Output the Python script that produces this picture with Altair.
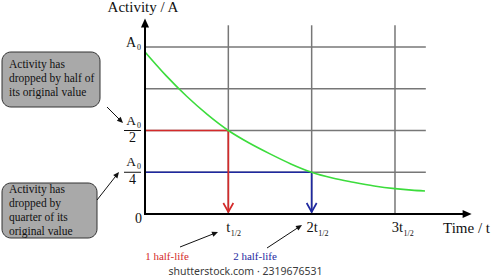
import math
import altair as alt
import pandas as pd

# ---------------- data ----------------
curve_t = [0.0, 0.25, 0.5, 0.75, 1.0, 1.25, 1.5, 1.75, 2.0, 2.25, 2.5, 2.75, 3.0, 3.2, 3.36]
curve_a = [0.97, 0.83, 0.705, 0.595, 0.50, 0.425, 0.36, 0.30, 0.25, 0.215, 0.19, 0.168, 0.152, 0.143, 0.138]
grid_levels = [0.25, 0.5, 0.75, 1.0]
grid_times = [1, 2, 3]
grid_t_end = 3.37
grid_a_end = 1.13
half_times = [1, 2]
half_levels = [0.5, 0.25]
half_labels = ["1 half-life", "2 half-life"]
frac_levels = [0.5, 0.25]
frac_denoms = ["2", "4"]
top_level = [1.0]
x_tick_values = [1, 2, 3]
x_tick_main = ["t", "2t", "3t"]
x_tick_sub = "1/2"
y_title = "Activity / A"
x_title = "Time / t"
callout_half = ["Activity has", "dropped by half of", "its original value"]
callout_quarter = ["Activity has", "dropped by", "quarter  of its", "original value"]
watermark = "shutterstock.com · 2319676531"
t_axis_end = 3.92
a_axis_end = 1.17

# ---------------- layout ----------------
W, H = 492, 280
X0, XU = 145.0, 83.33
Y0, YU = 214.0, 167.0
XS = alt.Scale(domain=[-X0 / XU, (W - X0) / XU], nice=False, zero=False)
YS = alt.Scale(domain=[(Y0 - H) / YU, Y0 / YU], nice=False, zero=False)
FONT = "'Liberation Serif', 'Times New Roman', serif"
INK = "#111111"
RED, BLUE, GREEN, GRID = "#d42a2a", "#1e28a0", "#3cdc3c", "#777777"
half_colors = [RED, BLUE]
x_main_right = [2, 6, 8]          # right edge of main tick text relative to tick (px)
box_rects = [(2, 52, 100, 107), (2, 183, 97, 238)]
box_text_x = 9
box_half_baselines = [68, 82, 96]
box_quarter_baselines = [193, 207, 221, 235]
callout_arrows = [(107, 107, 123, 123), (97, 200, 119, 172),
                  (180, 247, 218, 232), (267, 248, 302, 225)]
half_label_pos = [(167, 260), (255, 260)]


def X(f):
    return alt.X(f, type="quantitative", scale=XS, axis=None)


def Y(f):
    return alt.Y(f, type="quantitative", scale=YS, axis=None)


def PX(f):
    return alt.X(f, type="quantitative", scale=None, axis=None)


def PY(f):
    return alt.Y(f, type="quantitative", scale=None, axis=None)


layers = []

# grid
layers.append(alt.Chart(pd.DataFrame({"a": grid_levels, "t0": 0.0, "t1": grid_t_end}))
              .mark_rule(color=GRID, strokeWidth=1.5)
              .encode(x=X("t0"), x2="t1", y=Y("a")))
layers.append(alt.Chart(pd.DataFrame({"t": grid_times, "a0": 0.0, "a1": grid_a_end}))
              .mark_rule(color=GRID, strokeWidth=1.5)
              .encode(x=X("t"), y=Y("a0"), y2="a1"))

# half-life markers
half_df = pd.DataFrame({"t": half_times, "a": half_levels, "col": half_colors,
                        "t0": 0.0, "tip": 2.0 / YU})
layers.append(alt.Chart(half_df).mark_rule(strokeWidth=1.7)
              .encode(x=X("t0"), x2="t", y=Y("a"), color=alt.Color("col:N", scale=None)))
layers.append(alt.Chart(half_df).mark_rule(strokeWidth=1.7)
              .encode(x=X("t"), y=Y("a"), y2="tip", color=alt.Color("col:N", scale=None)))
layers.append(alt.Chart(half_df)
              .mark_point(shape="M-1,-1.8L0,0L1,-1.8", filled=False, size=100,
                          strokeWidth=1.7, opacity=1)
              .encode(x=X("t"), y=Y("tip"), color=alt.Color("col:N", scale=None)))

# decay curve
layers.append(alt.Chart(pd.DataFrame({"t": curve_t, "a": curve_a}))
              .mark_line(color=GREEN, strokeWidth=1.6, interpolate="monotone")
              .encode(x=X("t"), y=Y("a")))

# axes with arrowheads
layers.append(alt.Chart(pd.DataFrame({"t": [0.0], "a0": [-1.0 / YU], "a1": [a_axis_end - 5.0 / YU]}))
              .mark_rule(color="black", strokeWidth=2)
              .encode(x=X("t"), y=Y("a0"), y2="a1"))
layers.append(alt.Chart(pd.DataFrame({"t0": [-1.0 / XU], "t1": [t_axis_end - 5.0 / XU], "a": [0.0]}))
              .mark_rule(color="black", strokeWidth=2)
              .encode(x=X("t0"), x2="t1", y=Y("a")))
layers.append(alt.Chart(pd.DataFrame({"t": [0.0], "a": [a_axis_end]}))
              .mark_point(shape="M0,0L0.9,2L-0.9,2Z", filled=True, size=81, color="black", opacity=1)
              .encode(x=X("t"), y=Y("a")))
layers.append(alt.Chart(pd.DataFrame({"t": [t_axis_end], "a": [0.0]}))
              .mark_point(shape="M0,0L-2,-0.9L-2,0.9Z", filled=True, size=81, color="black", opacity=1)
              .encode(x=X("t"), y=Y("a")))

# y tick labels
txt = dict(font=FONT, color=INK, baseline="alphabetic")
layers.append(alt.Chart(pd.DataFrame({"t": 0.0, "a": top_level, "s": "A"}))
              .mark_text(align="right", dx=-9, dy=0, fontSize=14, **txt)
              .encode(x=X("t"), y=Y("a"), text="s:N"))
layers.append(alt.Chart(pd.DataFrame({"t": 0.0, "a": top_level, "s": "0"}))
              .mark_text(align="left", dx=-8, dy=3, fontSize=8, **txt)
              .encode(x=X("t"), y=Y("a"), text="s:N"))
frac_df = pd.DataFrame({"t": 0.0, "a": frac_levels, "num": "A", "sub": "0", "den": frac_denoms})
layers.append(alt.Chart(frac_df)
              .mark_text(align="right", dx=-9, dy=-6, fontSize=13.5, **txt)
              .encode(x=X("t"), y=Y("a"), text="num:N"))
layers.append(alt.Chart(frac_df)
              .mark_text(align="left", dx=-8, dy=-3, fontSize=8, **txt)
              .encode(x=X("t"), y=Y("a"), text="sub:N"))
layers.append(alt.Chart(frac_df).mark_rule(color=INK, strokeWidth=1)
              .encode(x=alt.value(124), x2=alt.value(141), y=Y("a")))
layers.append(alt.Chart(frac_df)
              .mark_text(align="center", dy=11.5, fontSize=14, **txt)
              .encode(x=alt.value(132.5), y=Y("a"), text="den:N"))
layers.append(alt.Chart(pd.DataFrame({"t": [0.0], "a": [0.0], "s": ["0"]}))
              .mark_text(align="right", dx=-3, dy=9, fontSize=14, **txt)
              .encode(x=X("t"), y=Y("a"), text="s:N"))

# x tick labels
for v, main, off in zip(x_tick_values, x_tick_main, x_main_right):
    d = pd.DataFrame({"t": [v], "a": [0.0], "m": [main], "s": [x_tick_sub]})
    layers.append(alt.Chart(d).mark_text(align="right", dx=off, dy=18, fontSize=14.5, **txt)
                  .encode(x=X("t"), y=Y("a"), text="m:N"))
    layers.append(alt.Chart(d).mark_text(align="left", dx=off + 0.5, dy=22, fontSize=8, **txt)
                  .encode(x=X("t"), y=Y("a"), text="s:N"))

# axis titles
layers.append(alt.Chart(pd.DataFrame({"x": [143], "y": [12], "s": [y_title]}))
              .mark_text(align="center", fontSize=15, **txt)
              .encode(x=PX("x"), y=PY("y"), text="s:N"))
layers.append(alt.Chart(pd.DataFrame({"x": [443], "y": [233], "s": [x_title]}))
              .mark_text(align="left", fontSize=15, **txt)
              .encode(x=PX("x"), y=PY("y"), text="s:N"))

# callout boxes
box_df = pd.DataFrame(box_rects, columns=["x1", "y1", "x2", "y2"])
layers.append(alt.Chart(box_df)
              .mark_rect(cornerRadius=9, fill="#a9a9a9", stroke="#333333", strokeWidth=1)
              .encode(x=PX("x1"), x2="x2", y=PY("y1"), y2="y2"))
box_lines = pd.DataFrame({
    "x": box_text_x,
    "y": box_half_baselines + box_quarter_baselines,
    "s": callout_half + callout_quarter,
})
layers.append(alt.Chart(box_lines).mark_text(align="left", fontSize=11.5, **txt)
              .encode(x=PX("x"), y=PY("y"), text="s:N"))

# callout arrows
rows = []
for xs, ys, xt, yt in callout_arrows:
    dx, dy = xt - xs, yt - ys
    L = math.hypot(dx, dy)
    rows.append({"xs": xs, "ys": ys, "xe": xt - dx / L * 3, "ye": yt - dy / L * 3,
                 "xt": xt, "yt": yt, "ang": math.degrees(math.atan2(dx, -dy)) % 360})
arr_df = pd.DataFrame(rows)
layers.append(alt.Chart(arr_df).mark_rule(color=INK, strokeWidth=1)
              .encode(x=PX("xs"), x2="xe", y=PY("ys"), y2="ye"))
layers.append(alt.Chart(arr_df)
              .mark_point(shape="M0,0L0.9,2L-0.9,2Z", filled=True, size=36, color=INK, opacity=1)
              .encode(x=PX("xt"), y=PY("yt"), angle=alt.Angle("ang:Q", scale=None)))

# half-life labels
hl_df = pd.DataFrame({"x": [p[0] for p in half_label_pos], "y": [p[1] for p in half_label_pos],
                      "s": half_labels, "col": half_colors})
layers.append(alt.Chart(hl_df).mark_text(align="center", fontSize=11, font=FONT, baseline="alphabetic")
              .encode(x=PX("x"), y=PY("y"), text="s:N", color=alt.Color("col:N", scale=None)))

# watermark
layers.append(alt.Chart(pd.DataFrame({"x": [245.5], "y": [275], "s": [watermark]}))
              .mark_text(align="center", fontSize=10.5, font="Noto Sans", color="#3a3a3a",
                         baseline="alphabetic")
              .encode(x=PX("x"), y=PY("y"), text="s:N"))

chart = (alt.layer(*layers)
         .resolve_scale(x="independent", y="independent")
         .properties(width=W, height=H, padding=0, autosize="none", background="white")
         .configure_view(stroke=None))

chart.save("out.html", embed_options={"renderer": "svg", "actions": False})
